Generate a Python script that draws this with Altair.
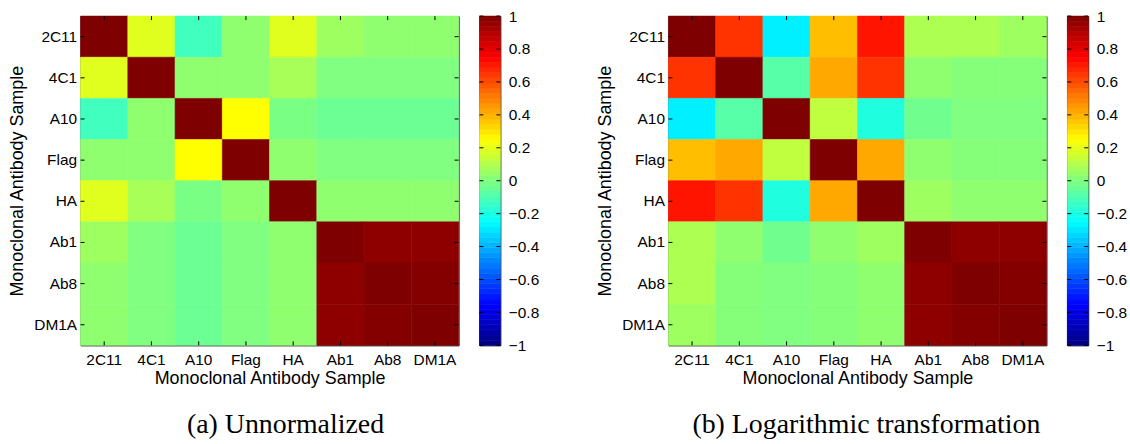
import altair as alt
import pandas as pd

# Sample labels, in row/column order of both correlation matrices
samples = ["2C11", "4C1", "A10", "Flag", "HA", "Ab1", "Ab8", "DM1A"]

# (a) correlations of the raw measurements
unnormalized = [
    [1.00, 0.19, -0.125, 0.03, 0.19, 0.06, 0.03, 0.03],
    [0.19, 1.00, 0.03, 0.03, 0.08, 0.00, 0.00, 0.00],
    [-0.125, 0.03, 1.00, 0.25, -0.01, -0.04, -0.04, -0.04],
    [0.03, 0.03, 0.25, 1.00, 0.03, 0.00, 0.00, 0.00],
    [0.19, 0.08, -0.01, 0.03, 1.00, 0.03, 0.03, 0.03],
    [0.06, 0.00, -0.04, 0.00, 0.03, 1.00, 0.97, 0.97],
    [0.03, 0.00, -0.04, 0.00, 0.03, 0.97, 1.00, 0.99],
    [0.03, 0.00, -0.04, 0.00, 0.03, 0.97, 0.99, 1.00],
]

# (b) correlations after the logarithmic transformation
log_transformed = [
    [1.00, 0.65, -0.28, 0.375, 0.71, 0.09, 0.09, 0.06],
    [0.65, 1.00, -0.08, 0.42, 0.65, 0.03, 0.01, 0.01],
    [-0.28, -0.08, 1.00, 0.125, -0.19, -0.03, 0.00, 0.00],
    [0.375, 0.42, 0.125, 1.00, 0.42, 0.03, 0.01, 0.01],
    [0.71, 0.65, -0.19, 0.42, 1.00, 0.06, 0.03, 0.03],
    [0.09, 0.03, -0.03, 0.03, 0.06, 1.00, 0.97, 0.97],
    [0.09, 0.01, 0.00, 0.01, 0.03, 0.97, 1.00, 0.99],
    [0.06, 0.01, 0.00, 0.01, 0.03, 0.97, 0.99, 1.00],
]

captions = ["(a) Unnormalized", "(b) Logarithmic transformation"]
cbar_ticks = [-1, -0.8, -0.6, -0.4, -0.2, 0, 0.2, 0.4, 0.6, 0.8, 1]
n_levels = 64
axis_title = "Monoclonal Antibody Sample"

W, H = 380, 331          # heatmap plot area
CB_W = 21                # colorbar width
TICK = 4                 # inward tick length

# MATLAB "jet" colormap on [-1, 1]
jet = alt.Scale(
    domain=[-1, -0.75, -0.25, 0.25, 0.75, 1],
    range=["#00007f", "#0000ff", "#00ffff", "#ffff00", "#ff0000", "#7f0000"],
    interpolate="rgb",
)


def long_table(matrix):
    return pd.DataFrame(
        [
            {"row": samples[i], "col": samples[j], "r": matrix[i][j]}
            for i in range(len(samples))
            for j in range(len(samples))
        ]
    )


def heatmap(matrix, caption, dx):
    xs = alt.Scale(domain=samples, paddingInner=0, paddingOuter=0)
    ys = alt.Scale(domain=samples, paddingInner=0, paddingOuter=0)
    x_axis = alt.Axis(
        title=axis_title, labelAngle=0, ticks=False, domain=False,
        labelPadding=7, titlePadding=2,
    )
    y_axis = alt.Axis(
        title=axis_title, ticks=False, domain=False,
        labelPadding=4, titlePadding=7,
    )
    cells = alt.Chart(long_table(matrix)).mark_rect(strokeWidth=0.6).encode(
        x=alt.X("col:N", scale=xs, axis=x_axis),
        y=alt.Y("row:N", scale=ys, axis=y_axis),
        color=alt.Color("r:Q", scale=jet, legend=None),
        stroke=alt.Stroke("r:Q", scale=jet, legend=None),
    )
    names = alt.Chart(pd.DataFrame({"s": samples}))
    tx = alt.X("s:N", scale=xs, axis=x_axis)
    ty = alt.Y("s:N", scale=ys, axis=y_axis)
    top = names.mark_rule(color="black").encode(x=tx, y=alt.value(0), y2=alt.value(TICK))
    bottom = names.mark_rule(color="black").encode(x=tx, y=alt.value(H - TICK), y2=alt.value(H))
    left = names.mark_rule(color="black").encode(y=ty, x=alt.value(0), x2=alt.value(TICK))
    right = names.mark_rule(color="black").encode(y=ty, x=alt.value(W - TICK), x2=alt.value(W))
    return alt.layer(cells, top, bottom, left, right).properties(
        width=W,
        height=H,
        title=alt.TitleParams(
            text=caption, orient="bottom", anchor="middle", frame="group",
            dx=dx, offset=24, font="Liberation Serif", fontSize=28,
            fontWeight="normal", color="black",
        ),
    )


def colorbar():
    ys = alt.Scale(domain=[-1, 1], nice=False, zero=False)
    cb_axis = alt.Axis(
        orient="right", values=cbar_ticks, format=".1~f",
        ticks=False, domain=False, grid=False, labelPadding=8, title=None,
    )
    bands = (
        alt.Chart(alt.sequence(0, n_levels, as_="k"))
        .transform_calculate(
            lo=f"-1 + datum.k * 2 / {n_levels}",
            hi=f"-1 + (datum.k + 1) * 2 / {n_levels}",
            mid=f"-1 + (datum.k + 0.5) * 2 / {n_levels}",
        )
        .mark_rect(strokeWidth=0.6)
        .encode(
            y=alt.Y("lo:Q", scale=ys, axis=cb_axis),
            y2="hi:Q",
            x=alt.value(0),
            x2=alt.value(CB_W),
            color=alt.Color("mid:Q", scale=jet, legend=None),
            stroke=alt.Stroke("mid:Q", scale=jet, legend=None),
        )
    )
    marks = alt.Chart(pd.DataFrame({"v": cbar_ticks}))
    vy = alt.Y("v:Q", scale=ys, axis=cb_axis)
    lt = marks.mark_rule(color="black").encode(y=vy, x=alt.value(0), x2=alt.value(TICK))
    rt = marks.mark_rule(color="black").encode(y=vy, x=alt.value(CB_W - TICK), x2=alt.value(CB_W))
    return alt.layer(bands, lt, rt).properties(width=CB_W, height=H)


def panel(matrix, caption, dx):
    return alt.hconcat(heatmap(matrix, caption, dx), colorbar(), spacing=19)


chart = (
    alt.hconcat(
        panel(unnormalized, captions[0], 16),
        panel(log_transformed, captions[1], 9),
        spacing=56,
    )
    .properties(padding={"left": 8, "top": 7, "right": 2, "bottom": 2}, background="white")
    .configure_view(stroke="black", strokeWidth=1)
    .configure_axis(
        labelFont="Liberation Sans", labelFontSize=15.5, labelColor="black",
        titleFont="Liberation Sans", titleFontSize=18, titleFontWeight="normal",
        titleColor="black",
    )
)

chart.save("out.html", embed_options={"renderer": "svg", "actions": False})
